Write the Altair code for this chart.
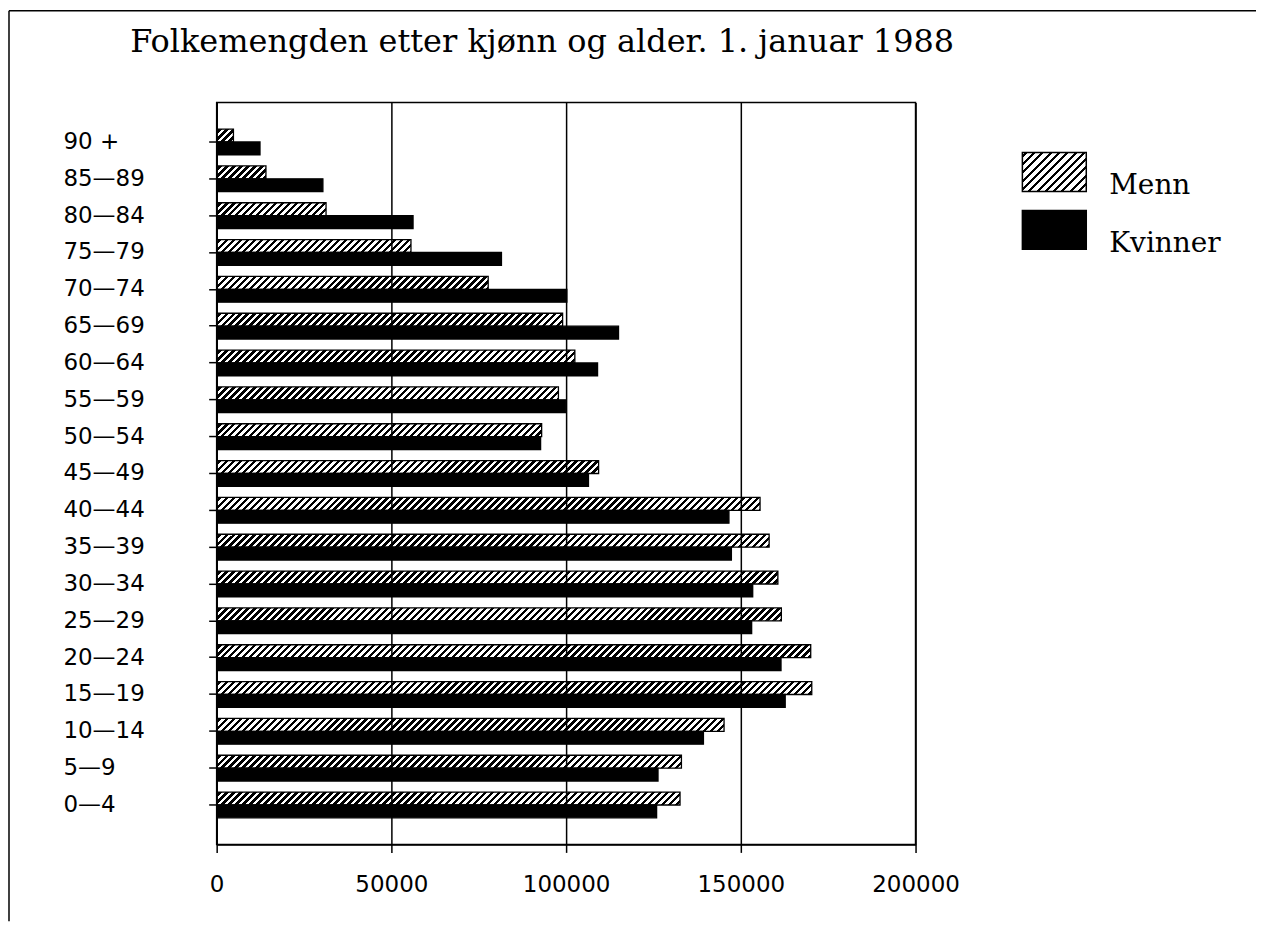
import json
import altair as alt

# ---- data ----
ages = ["90 +", "85—89", "80—84", "75—79", "70—74", "65—69", "60—64", "55—59",
        "50—54", "45—49", "40—44", "35—39", "30—34", "25—29", "20—24", "15—19",
        "10—14", "5—9", "0—4"]
menn = [4800, 14100, 31300, 55600, 77700, 99000, 102500, 97800, 93000, 109300,
        155500, 158100, 160600, 161600, 170000, 170300, 145200, 133000, 132600]
kvinner = [12400, 30400, 56200, 81500, 100200, 115000, 109000, 99900, 92700, 106400,
           146600, 147300, 153400, 153100, 161500, 162700, 139300, 126300, 125900]
sexes = ["Menn", "Kvinner"]
x_ticks = [0, 50000, 100000, 150000, 200000]
title_text = "Folkemengden etter kjønn og alder. 1. januar 1988"

# ---- layout constants ----
W_PLOT = 700
H_PLOT = 743
X_MAX = 200000
PAD_IN = 0.3
PAD_OUT = 0.72
step = H_PLOT / (len(ages) - PAD_IN + 2 * PAD_OUT)
bar_h = step * (1 - PAD_IN) / 2


def hatch(w, h, period, frac, phase=0.3):
    """Diagonal '/' hatch as a bounding-box linear gradient."""
    w = max(w, 1.0)
    s = (w + h) * w / (w * w + h * h)
    L = w + h
    dt = period / L
    stops = [{"offset": 0, "color": "white"}]
    t = dt * phase
    while t < 1:
        a = round(t, 5)
        b = round(min(t + frac * dt, 1), 5)
        stops += [{"offset": a, "color": "white"}, {"offset": a, "color": "black"},
                  {"offset": b, "color": "black"}, {"offset": b, "color": "white"}]
        t += dt
    stops.append({"offset": 1, "color": "white"})
    return {"gradient": "linear", "x1": 0, "y1": 0,
            "x2": round(s, 5), "y2": round(s * h / w, 5), "stops": stops}


rows = []
for a, m, k in zip(ages, menn, kvinner):
    wpx = m / X_MAX * W_PLOT
    rows.append({"age": a, "sex": "Menn", "value": m,
                 "paint": hatch(wpx, bar_h, 7.0, 0.5)})
    rows.append({"age": a, "sex": "Kvinner", "value": k, "paint": "black"})

leg_grad = hatch(64, 39, 8.3, 0.36)
leg_expr = "datum.value === 'Menn' ? " + json.dumps(leg_grad) + " : 'black'"
rect_path = "M-1.641,-1H1.641V1H-1.641Z"

axis_font = "DejaVu Sans"
serif = "DejaVu Serif"

bars = alt.Chart(alt.Data(values=rows)).mark_bar(strokeWidth=1.3).encode(
    x=alt.X("value:Q", stack=None,
            scale=alt.Scale(domain=[0, X_MAX], nice=False),
            axis=alt.Axis(values=x_ticks, format="d", title=None, grid=True,
                          gridColor="black", gridWidth=1.5, gridOpacity=1,
                          tickSize=8, tickColor="black", tickWidth=1.5,
                          domainColor="black", domainWidth=1.5,
                          labelFont=axis_font, labelFontSize=23, labelColor="black",
                          labelPadding=21, labelFlush=False, labelOverlap=False,
                          zindex=1)),
    y=alt.Y("age:N", sort=ages,
            scale=alt.Scale(paddingInner=PAD_IN, paddingOuter=PAD_OUT),
            axis=alt.Axis(title=None, grid=False, tickSize=8, tickColor="black",
                          tickWidth=1.5, domainColor="black", domainWidth=1.5,
                          labelFont=axis_font, labelFontSize=23, labelColor="black",
                          labelAlign="left", labelBaseline="middle",
                          labelPadding=146)),
    yOffset=alt.YOffset("sex:N", sort=sexes,
                        scale=alt.Scale(domain=sexes, paddingInner=0, paddingOuter=0)),
    fill=alt.Fill("paint:N", scale=None),
    stroke=alt.Stroke("sex:N",
                      scale=alt.Scale(domain=sexes, range=["black", "black"]),
                      legend=alt.Legend(title=None, orient="none",
                                        legendX=818.5, legendY=49, padding=0,
                                        symbolType=rect_path, symbolSize=1521,
                                        symbolStrokeWidth=1.5,
                                        symbolFillColor=alt.ExprRef(leg_expr),
                                        labelFont=serif, labelFontSize=28,
                                        labelColor="black", labelBaseline="top",
                                        labelOffset=34.5, rowPadding=7,
                                        labelLimit=300)),
)

frame_data = alt.Data(values=[{"k": 1}])
top_line = alt.Chart(frame_data).mark_rule(color="black", strokeWidth=1.5).encode(
    x=alt.value(-208), x2=alt.value(1041), y=alt.value(-92))
left_line = alt.Chart(frame_data).mark_rule(color="black", strokeWidth=1.5).encode(
    x=alt.value(-208), y=alt.value(-92), y2=alt.value(820))

chart = alt.layer(bars, top_line, left_line).properties(
    width=W_PLOT, height=H_PLOT,
    padding={"left": 0, "top": 1, "right": 0, "bottom": 0},
    title=alt.TitleParams(title_text, font=serif, fontSize=32, fontWeight="normal",
                          color="black", anchor="middle", dx=-24, offset=-74,
                          baseline="alphabetic"),
).configure_view(stroke="black", strokeWidth=1.5)

chart.save("out.html", embed_options={"renderer": "svg", "actions": False})
